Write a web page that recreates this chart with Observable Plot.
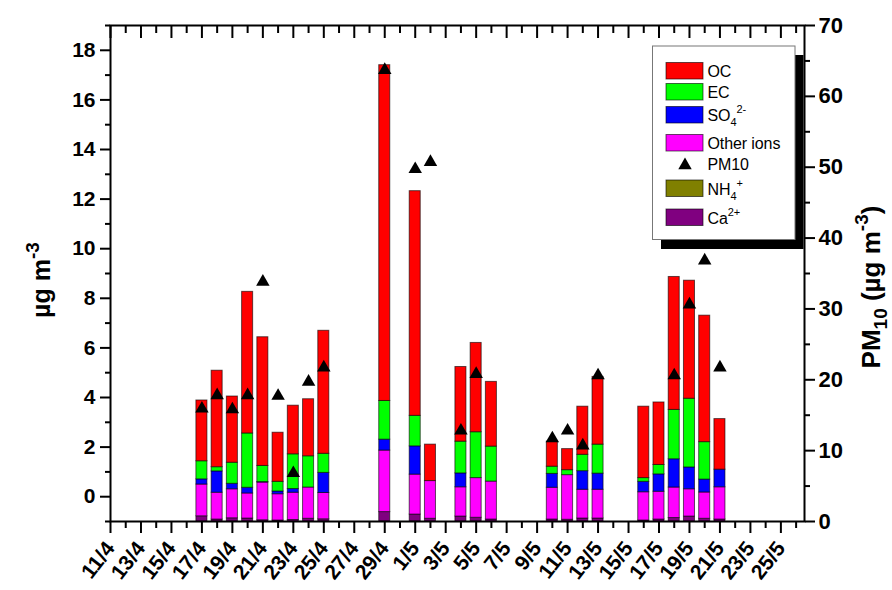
<!DOCTYPE html>
<html><head><meta charset="utf-8">
<script src="https://cdn.jsdelivr.net/npm/d3@7"></script>
<script src="https://cdn.jsdelivr.net/npm/@observablehq/plot@0.6"></script>
<style>
body{margin:0;background:#fff;}
#chart{position:relative;width:892px;height:590px;}
</style></head><body><div id="chart"></div>
<script>
// ---- data (µg m-3, left axis; PM10 right axis) ----
const dates     = ["17/4","18/4","19/4","20/4","21/4","22/4","23/4","24/4","25/4","29/4","1/5","2/5","4/5","5/5","6/5","10/5","11/5","12/5","13/5","16/5","17/5","18/5","19/5","20/5","21/5"];
const ca        = [0.21,0.08,0.13,0.12,0.05,0.04,0.06,0.11,0.09,0.38,0.28,0.11,0.20,0.15,0.08,0.08,0.07,0.12,0.12,0.04,0.08,0.14,0.20,0.11,0.08];
const nh4       = [0,0,0,0,0,0,0,0,0,0,0,0,0,0,0,0,0,0,0,0,0,0,0,0,0];
const otherIons = [1.28,1.08,1.17,1.01,1.52,1.06,1.10,1.26,1.06,2.48,1.61,1.52,1.18,1.60,1.53,1.28,1.80,1.16,1.16,1.14,1.12,1.23,1.10,1.06,1.30];
const so4       = [0.21,0.86,0.22,0.23,0.02,0.11,0.15,0,0.81,0.44,1.14,0,0.56,0,0,0.56,0,0.75,0.65,0.42,0.70,1.14,0.88,0.52,0.71];
const ec        = [0.73,0.17,0.85,2.19,0.65,0.39,1.40,1.26,0.77,1.56,1.23,0,1.28,1.85,1.41,0.29,0.20,0.66,1.17,0.15,0.38,1.99,2.77,1.51,0];
const oc        = [2.45,3.89,2.67,5.71,5.19,1.98,1.96,2.30,4.96,13.54,9.06,1.47,3.01,3.60,2.61,1.01,0.85,1.94,2.73,2.88,2.52,5.36,4.76,5.10,2.04];
const pm10      = [16.2,18.1,16.1,18.1,34.1,18.0,7.1,20.0,22.0,64.0,50.0,51.0,13.1,21.1,null,12.0,13.1,11.0,20.9,null,null,20.9,30.9,37.1,22.0];
const xTickLabels = ["11/4","13/4","15/4","17/4","19/4","21/4","23/4","25/4","27/4","29/4","1/5","3/5","5/5","7/5","9/5","11/5","13/5","15/5","17/5","19/5","21/5","23/5","25/5"];
const leftTicks  = [0,2,4,6,8,10,12,14,16,18];
const rightTicks = [0,10,20,30,40,50,60,70];

// stacking order bottom -> top
const seriesKeys   = ["Ca2+","NH4+","Other ions","SO4","EC","OC"];
const seriesValues = [ca, nh4, otherIons, so4, ec, oc];
const seriesColors = ["#800080","#808000","#FF00FF","#0000FF","#00FF00","#FF0000"];

// ---- helpers ----
const origin = Date.UTC(2000, 3, 11);
const dayIndex = s => { const [d, m] = s.split("/").map(Number); return (Date.UTC(2000, m - 1, d) - origin) / 864e5; };
const yMin = -1, yMax = 19, pmMax = 70;
const pmToY = v => yMin + v * (yMax - yMin) / pmMax;
const yToPm = y => (y - yMin) * pmMax / (yMax - yMin);

const rects = [];
dates.forEach((d, i) => {
  let acc = yMin;
  seriesValues.forEach((arr, k) => {
    const v = arr[i];
    if (v > 0) rects.push({x: dayIndex(d), y1: acc, y2: acc + v, fill: seriesColors[k], key: seriesKeys[k]});
    acc += v;
  });
});
const pmRows = dates.map((d, i) => ({x: dayIndex(d), v: pm10[i]})).filter(r => r.v != null);

const majorDays = xTickLabels.map(dayIndex);
const labelByDay = new Map(xTickLabels.map(l => [dayIndex(l), l]));
const minorDays = d3.range(0, 46).filter(d => !labelByDay.has(d));
const leftMinor = d3.range(-1, 20, 2);
const rightMinor = d3.range(5, 70, 10).map(pmToY);
const noText = () => "";

const plot = Plot.plot({
  width: 892, height: 590,
  marginLeft: 110, marginRight: 88, marginTop: 25, marginBottom: 69,
  x: {domain: [0, 45.55]},
  y: {domain: [yMin, yMax]},
  style: {fontFamily: "'Liberation Sans', Arial, sans-serif", fontSize: "21px", fontWeight: "bold", color: "#000", background: "#fff"},
  marks: [
    Plot.rectY(rects, {x1: d => d.x - 0.5, x2: d => d.x + 0.5, y1: "y1", y2: "y2", fill: "fill",
      insetLeft: 2.1, insetRight: 2.1, stroke: "#000", strokeOpacity: 0.6, strokeWidth: 1}),
    Plot.dot(pmRows, {x: "x", y: d => pmToY(d.v), symbol: "triangle", r: 5, fill: "#000", dy: 2}),
    Plot.frame({stroke: "#000", strokeWidth: 2}),
    // left axis
    Plot.axisY({ticks: leftTicks, tickSize: 10, tickPadding: 5, label: null, strokeWidth: 2, fontSize: 21}),
    Plot.axisY({ticks: leftMinor, tickSize: 5, tickFormat: noText, label: null, strokeWidth: 2}),
    // right axis (PM10)
    Plot.axisY({anchor: "right", ticks: rightTicks.map(pmToY), tickFormat: t => String(Math.round(yToPm(t))),
      tickSize: 10, tickPadding: 4, label: null, strokeWidth: 2, fontSize: 22}),
    Plot.axisY({anchor: "right", ticks: rightMinor, tickSize: 5, tickFormat: noText, label: null, strokeWidth: 2}),
    // bottom axis
    Plot.axisX({ticks: majorDays, tickFormat: d => labelByDay.get(d), tickSize: 12, tickRotate: -52,
      textAnchor: "end", tickPadding: 11, label: null, strokeWidth: 2, fontSize: 21}),
    Plot.axisX({ticks: minorDays, tickSize: 7, tickFormat: noText, label: null, strokeWidth: 2}),
    // top mirrored ticks (inward)
    Plot.axisX({anchor: "top", ticks: majorDays, tickSize: -12, tickFormat: noText, label: null, strokeWidth: 2}),
    Plot.axisX({anchor: "top", ticks: minorDays, tickSize: -7, tickFormat: noText, label: null, strokeWidth: 2})
  ]
});
document.getElementById("chart").appendChild(plot);

// ---- axis titles & legend (text) ----
const svg = d3.select(plot);
const font = "'Liberation Sans', Arial, sans-serif";

const lt = svg.append("text").attr("transform", "translate(50,280) rotate(-90)")
  .attr("text-anchor", "middle").attr("font-family", font).attr("font-size", 25).attr("font-weight", "bold");
lt.append("tspan").text("µg m");
lt.append("tspan").attr("dy", -11).attr("font-size", 19).text("-3");

const rt = svg.append("text").attr("transform", "translate(880,287) rotate(-90)")
  .attr("text-anchor", "middle").attr("font-family", font).attr("font-size", 26).attr("font-weight", "bold");
rt.append("tspan").text("PM");
rt.append("tspan").attr("dy", 7).attr("font-size", 19).text("10");
rt.append("tspan").attr("dy", -7).text(" (µg m");
rt.append("tspan").attr("dy", -12).attr("font-size", 19).text("-3");
rt.append("tspan").attr("dy", 12).text(")");

// legend
const lg = svg.append("g").attr("font-family", font).attr("font-size", 16).attr("font-weight", "normal").attr("text-anchor", "start");
lg.append("rect").attr("x", 661).attr("y", 55).attr("width", 142.5).attr("height", 194).attr("fill", "#000");
lg.append("rect").attr("x", 652.5).attr("y", 46).attr("width", 142.5).attr("height", 193.5).attr("fill", "#fff").attr("stroke", "#777").attr("stroke-width", 1);
const legendItems = [
  {name: "OC", color: seriesColors[5], y: 62.5},
  {name: "EC", color: seriesColors[4], y: 83.5},
  {name: "SO", sub: "4", sup: "2-", color: seriesColors[3], y: 106.5},
  {name: "Other ions", color: seriesColors[2], y: 134.5},
  {name: "PM10", tri: true, y: 155},
  {name: "NH", sub: "4", sup: "+", color: seriesColors[1], y: 180},
  {name: "Ca", sup: "2+", color: seriesColors[0], y: 209}
];
legendItems.forEach(it => {
  if (it.tri) {
    lg.append("path").attr("d", d3.symbol(d3.symbolTriangle, 78)()).attr("transform", `translate(685,${it.y + 8.3 + 2})`).attr("fill", "#000");
  } else {
    lg.append("rect").attr("x", 666).attr("y", it.y).attr("width", 37).attr("height", 16.5)
      .attr("fill", it.color).attr("stroke", "#000").attr("stroke-opacity", 0.6);
  }
  const t = lg.append("text").attr("x", 707.5).attr("y", it.y + 14.5).attr("letter-spacing", -0.1);
  t.append("tspan").text(it.name);
  if (it.sub) t.append("tspan").attr("dy", 5).attr("font-size", 11).text(it.sub);
  if (it.sup) t.append("tspan").attr("dy", it.sub ? -13 : -8).attr("font-size", 11).text(it.sup);
});
</script></body></html>
